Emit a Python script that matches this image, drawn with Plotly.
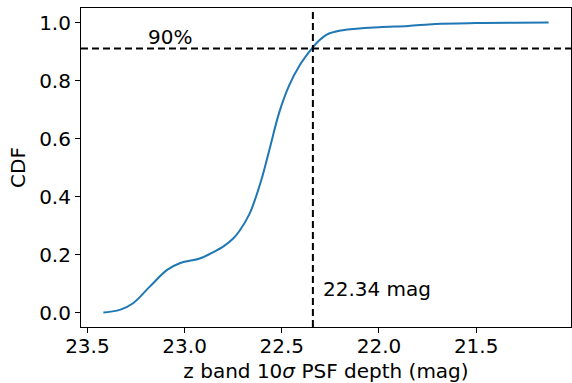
import plotly.graph_objects as go

depth = [23.418, 23.38, 23.33, 23.265, 23.178, 23.09, 23.025, 22.96, 22.922, 22.855,
         22.80, 22.75, 22.717, 22.666, 22.64, 22.606, 22.564, 22.513, 22.462, 22.41,
         22.348, 22.308, 22.257, 22.172, 22.0, 21.85, 21.71, 21.5, 21.3, 21.127]
cdf = [0.0, 0.003, 0.01, 0.032, 0.09, 0.147, 0.170, 0.180, 0.186, 0.207,
       0.228, 0.255, 0.282, 0.340, 0.385, 0.455, 0.560, 0.690, 0.783, 0.850,
       0.908, 0.938, 0.962, 0.975, 0.984, 0.988, 0.995, 0.998, 0.999, 1.0]

depth90 = 22.34
level90 = 0.91
xticks = [23.5, 23.0, 22.5, 22.0, 21.5]
yticks = [0.0, 0.2, 0.4, 0.6, 0.8, 1.0]

FONT = "DejaVu Sans"
FS = 20
fig = go.Figure()
fig.add_trace(go.Scatter(x=depth, y=cdf, mode="lines",
                         line=dict(color="#1f77b4", width=2, shape="spline", smoothing=1.0),
                         showlegend=False, hoverinfo="skip"))

fig.add_shape(type="line", xref="paper", yref="y", x0=0, x1=1, y0=level90, y1=level90,
              line=dict(color="black", width=2, dash="7px,4px"))
fig.add_shape(type="line", xref="x", yref="paper", x0=depth90, x1=depth90, y0=0, y1=1,
              line=dict(color="black", width=2, dash="7px,4px"))

fig.add_annotation(x=23.2, y=0.92, text="90%", showarrow=False, xanchor="left", yanchor="bottom",
                   yshift=-5, font=dict(family=FONT, size=FS, color="black"))
fig.add_annotation(x=22.3, y=0.05, text=f"{depth90:.2f} mag", showarrow=False, xanchor="left",
                   yanchor="bottom", yshift=-5, font=dict(family=FONT, size=FS, color="black"))

axis_common = dict(showline=True, linecolor="black", linewidth=1.1, mirror=True,
                   ticks="outside", ticklen=5, tickwidth=1.1, tickcolor="black",
                   showgrid=False, zeroline=False,
                   tickfont=dict(family=FONT, size=FS, color="black"))

fig.update_xaxes(range=[23.533, 21.012], tickvals=xticks,
                 ticktext=[f"{v:.1f}" for v in xticks], ticklabelstandoff=-4,
                 title=dict(text="z band 10<i>σ</i> PSF depth (mag)",
                            font=dict(family=FONT, size=FS, color="black"), standoff=7),
                 **axis_common)
fig.update_yaxes(range=[-0.05, 1.05], tickvals=yticks,
                 ticktext=[f"{v:.1f}" for v in yticks],
                 title=dict(text="CDF", font=dict(family=FONT, size=FS, color="black"), standoff=8),
                 **axis_common)

fig.update_layout(width=572, height=383, margin=dict(l=81, r=1, t=8, b=56),
                  plot_bgcolor="white", paper_bgcolor="white",
                  font=dict(family=FONT, size=FS, color="black"))

fig.write_html("out.html")
